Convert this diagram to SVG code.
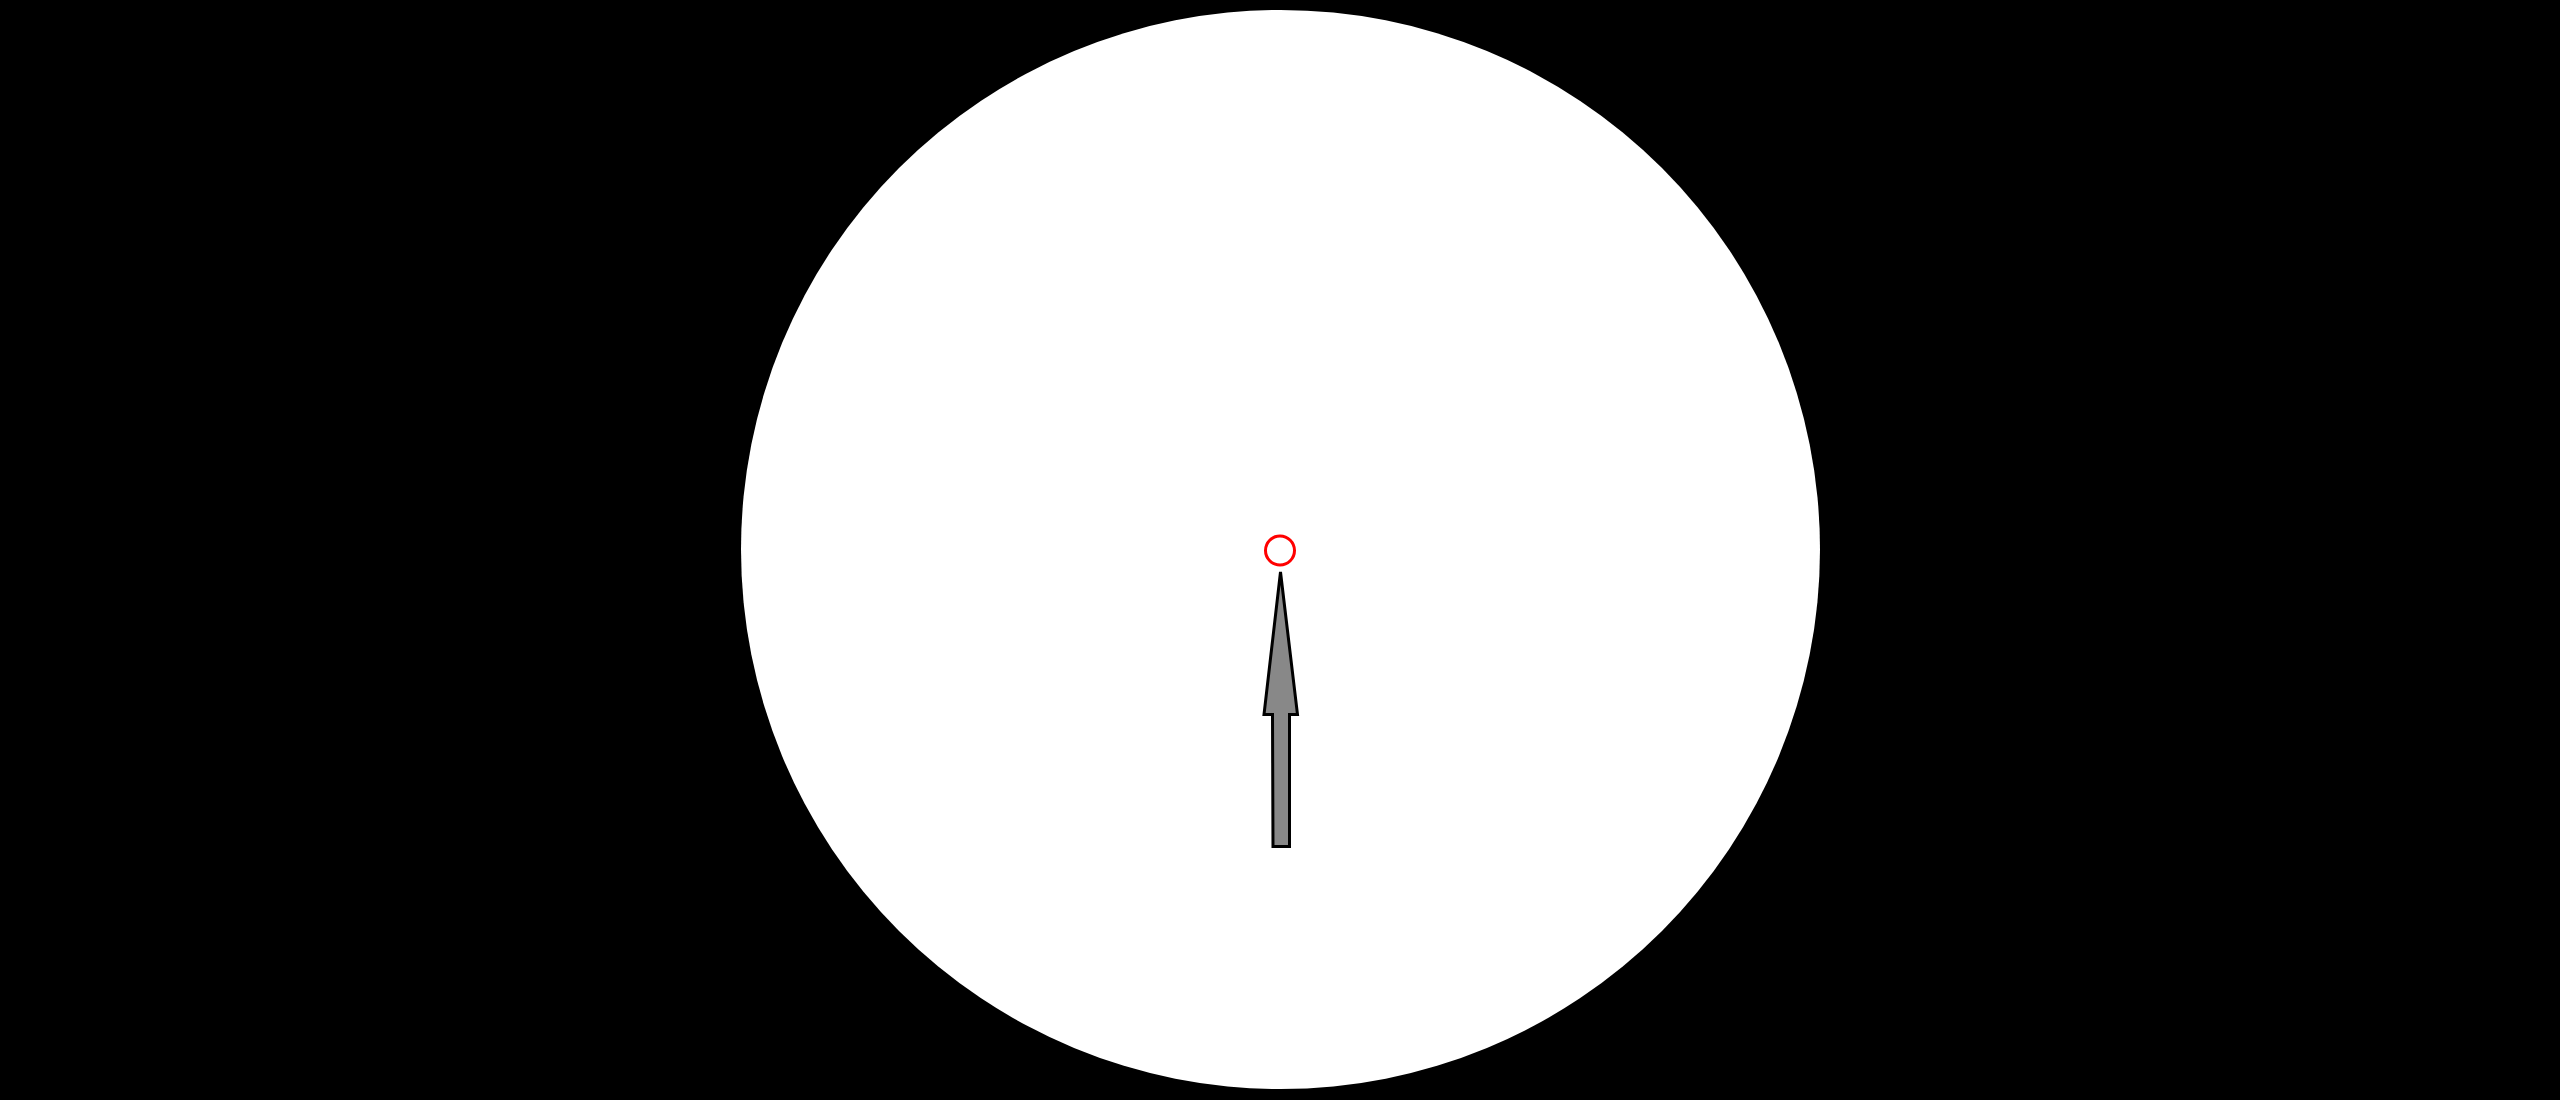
<svg xmlns="http://www.w3.org/2000/svg" width="2560" height="1100" viewBox="0 0 2560 1100">
  <style>
    .bg { fill: #000000; }
    .disc { fill: #ffffff; }
    .target { fill: none; stroke: #ff0000; stroke-width: 3; }
    .arrow { fill: #888888; stroke: #000000; stroke-width: 3; stroke-linejoin: miter; }
  </style>
  <rect class="bg" x="0" y="0" width="2560" height="1100"/>
  <g id="disc">
    <circle class="disc" cx="1280.5" cy="549.5" r="539.5"/>
  </g>
  <g id="target">
    <circle class="target" cx="1280" cy="550.5" r="14.5"/>
  </g>
  <g id="connectors">
    <path class="arrow" d="M1280.5,572 L1297.5,714.5 L1289.5,714.5 L1289.5,846.5 L1273,846.5 L1272.5,714.5 L1264,714.5 Z"/>
  </g>
</svg>
